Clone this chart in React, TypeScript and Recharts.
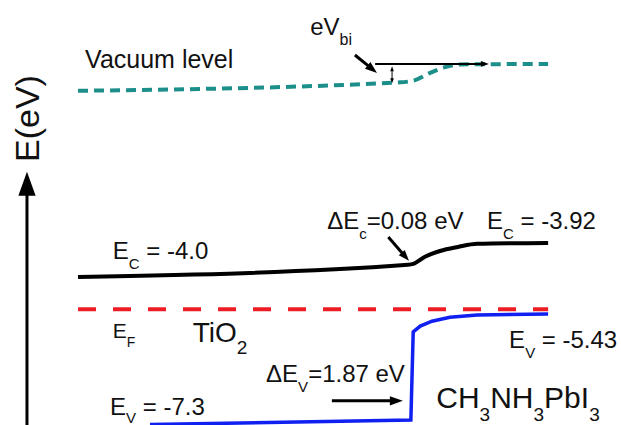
import { LineChart, Line, XAxis, YAxis, ReferenceLine, ReferenceDot } from 'recharts'

// schematic band diagram: x = position across the junction, v = energy (schematic eV)
const vacuumLevel = [
  { x: 0, v: 0.12 },
  { x: 68.5, v: 0.31 },
  { x: 71.7, v: 0.36 },
  { x: 74.9, v: 0.52 },
  { x: 78.1, v: 0.65 },
  { x: 81.3, v: 0.71 },
  { x: 100, v: 0.72 },
]

const conductionBand = [
  { x: 0, v: -4.04 },
  { x: 70.2, v: -3.77 },
  { x: 71.3, v: -3.75 },
  { x: 73.8, v: -3.59 },
  { x: 77.0, v: -3.46 },
  { x: 80.8, v: -3.37 },
  { x: 84.9, v: -3.3 },
  { x: 100, v: -3.28 },
]

const fermiLevel = [
  { x: 0, v: -4.76 },
  { x: 100, v: -4.76 },
]

const valenceBand = [
  { x: 15.3, v: -7.34 },
  { x: 70.8, v: -7.24 },
  { x: 71.3, v: -5.27 },
  { x: 72.8, v: -5.14 },
  { x: 75.3, v: -5.03 },
  { x: 79.1, v: -4.94 },
  { x: 84.9, v: -4.89 },
  { x: 100, v: -4.87 },
]

type Part = { t: string; sub?: boolean }
type Note = { x: number; v: number; parts: Part[]; size: number; subSize?: number; rotate?: boolean; drop?: number }

const notes: Note[] = [
  { x: 1.5, v: 0.63, size: 25, parts: [{ t: 'Vacuum level' }] },
  { x: 49.4, v: 1.37, size: 24, subSize: 16, parts: [{ t: 'eV' }, { t: 'bi', sub: true }] },
  { x: 53.0, v: -2.97, size: 24, subSize: 15, parts: [{ t: '\u0394E' }, { t: 'c', sub: true }, { t: '=0.08 eV' }] },
  { x: 87.0, v: -2.97, size: 24, subSize: 15, parts: [{ t: 'E' }, { t: 'C', sub: true }, { t: ' = -3.92' }] },
  { x: 7.4, v: -3.64, size: 24, subSize: 15, parts: [{ t: 'E' }, { t: 'C', sub: true }, { t: ' = -4.0' }] },
  { x: 7.4, v: -5.41, size: 21, subSize: 14, parts: [{ t: 'E' }, { t: 'F', sub: true }] },
  { x: 24.4, v: -5.49, size: 28, subSize: 19, parts: [{ t: 'TiO' }, { t: '2', sub: true }] },
  { x: 40.0, v: -6.39, size: 24, subSize: 15, parts: [{ t: '\u0394E' }, { t: 'V', sub: true }, { t: '=1.87 eV' }] },
  { x: 91.7, v: -5.63, size: 24, subSize: 15, parts: [{ t: 'E' }, { t: 'V', sub: true }, { t: ' = -5.43' }] },
  { x: 6.8, v: -7.12, size: 24, subSize: 15, drop: 8, parts: [{ t: 'E' }, { t: 'V', sub: true }, { t: ' = -7.3' }] },
  {
    x: 76.2, v: -6.97, size: 30, subSize: 19,
    parts: [{ t: 'CH' }, { t: '3', sub: true }, { t: 'NH' }, { t: '3', sub: true }, { t: 'PbI' }, { t: '3', sub: true }],
  },
  { x: -8.3, v: -0.5, size: 34, rotate: true, parts: [{ t: 'E(eV)' }] },
]

type Arrow = { from: [number, number]; to: [number, number]; width: number; head: number; both?: boolean }

const arrows: Arrow[] = [
  { from: [-10.86, -7.35], to: [-10.86, -1.69], width: 3, head: 24 },
  { from: [63.2, 0.72], to: [87.4, 0.72], width: 2, head: 8 },
  { from: [58.9, 0.92], to: [63.6, 0.52], width: 3, head: 12 },
  { from: [66.8, 0.29], to: [66.8, 0.67], width: 1, head: 5, both: true },
  { from: [66.0, -3.15], to: [70.4, -3.68], width: 3, head: 11 },
  { from: [54.0, -6.81], to: [69.1, -6.81], width: 3, head: 13 },
]

const FONT = '"Liberation Sans", Arial, sans-serif'

function head(x1: number, y1: number, x2: number, y2: number, len: number) {
  const dx = x2 - x1
  const dy = y2 - y1
  const d = Math.hypot(dx, dy) || 1
  const ux = dx / d
  const uy = dy / d
  const w = len * 0.36
  const bx = x2 - ux * len
  const by = y2 - uy * len
  return `${x2},${y2} ${bx - uy * w},${by + ux * w} ${bx + uy * w},${by - ux * w}`
}

function arrowShape(a: Arrow) {
  return (p: any) => {
    const { x1, y1, x2, y2 } = p
    const d = Math.hypot(x2 - x1, y2 - y1) || 1
    const sx = x1 + ((x2 - x1) / d) * (a.both ? a.head * 0.8 : 0)
    const sy = y1 + ((y2 - y1) / d) * (a.both ? a.head * 0.8 : 0)
    const ex = x2 - ((x2 - x1) / d) * a.head * 0.8
    const ey = y2 - ((y2 - y1) / d) * a.head * 0.8
    return (
      <g>
        <line x1={sx} y1={sy} x2={ex} y2={ey} stroke="#000" strokeWidth={a.width} />
        <polygon points={head(x1, y1, x2, y2, a.head)} fill="#000" />
        {a.both && <polygon points={head(x2, y2, x1, y1, a.head)} fill="#000" />}
      </g>
    )
  }
}

function noteShape(n: Note) {
  return (p: any) => {
    const { cx, cy } = p
    const sub = n.subSize ?? n.size * 0.62
    const shift = n.drop ?? n.size * 0.42
    let low = false
    return (
      <text
        x={cx}
        y={cy}
        fontFamily={FONT}
        fontSize={n.size}
        fill="#111"
        textAnchor={n.rotate ? 'middle' : 'start'}
        transform={n.rotate ? `rotate(-90 ${cx} ${cy})` : undefined}
      >
        {n.parts.map((part, i) => {
          let dy = 0
          if (part.sub && !low) dy = shift
          if (!part.sub && low) dy = -shift
          low = !!part.sub
          return (
            <tspan key={i} dy={dy} fontSize={part.sub ? sub : n.size}>
              {part.t}
            </tspan>
          )
        })}
      </text>
    )
  }
}

export default function App() {
  return (
    <div style={{ position: 'absolute', left: 0, top: 0, width: 621, height: 425, background: '#fff' }}>
      <LineChart width={621} height={425} margin={{ top: 0, right: 0, bottom: 0, left: 0 }}>
        <XAxis type="number" dataKey="x" domain={[-16.6, 115.5]} allowDataOverflow hide />
        <YAxis type="number" dataKey="v" domain={[-7.35, 2.15]} allowDataOverflow hide />
        <Line
          data={vacuumLevel}
          dataKey="v"
          type="monotone"
          stroke="#1c8f8a"
          strokeWidth={4}
          strokeDasharray="10 6"
          dot={false}
          activeDot={false}
          isAnimationActive={false}
        />
        <Line
          data={conductionBand}
          dataKey="v"
          type="monotone"
          stroke="#000"
          strokeWidth={4}
          dot={false}
          activeDot={false}
          isAnimationActive={false}
        />
        <Line
          data={fermiLevel}
          dataKey="v"
          type="linear"
          stroke="#ee1c24"
          strokeWidth={4}
          strokeDasharray="18 17"
          dot={false}
          activeDot={false}
          isAnimationActive={false}
        />
        <Line
          data={valenceBand}
          dataKey="v"
          type="linear"
          stroke="#1020f0"
          strokeWidth={3.5}
          dot={false}
          activeDot={false}
          isAnimationActive={false}
        />
        {arrows.map((a, i) => (
          <ReferenceLine
            key={`a${i}`}
            segment={[
              { x: a.from[0], y: a.from[1] },
              { x: a.to[0], y: a.to[1] },
            ]}
            ifOverflow="visible"
            shape={arrowShape(a)}
          />
        ))}
        {notes.map((n, i) => (
          <ReferenceDot key={`n${i}`} x={n.x} y={n.v} r={0} ifOverflow="visible" shape={noteShape(n)} />
        ))}
      </LineChart>
    </div>
  )
}
